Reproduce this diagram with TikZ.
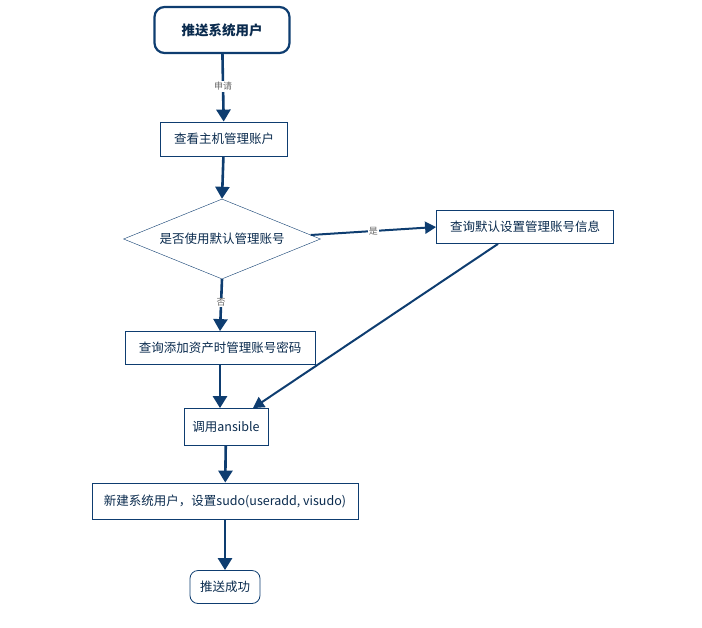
\documentclass[tikz,border=0pt]{standalone}
\usepackage{fontspec}
\setmainfont{Noto Sans CJK SC}
\usetikzlibrary{arrows.meta,shapes.geometric}
\definecolor{flowblue}{HTML}{0E3D70}

\begin{document}
\begin{tikzpicture}[x=1pt,y=-1pt,
        box/.style={draw=flowblue,thick,fill=white,inner sep=2pt,font=\fontsize{12.5}{14}\selectfont,text=flowblue!70!black},
        endbox/.style={box,rounded corners=8pt},
        startbox/.style={box,rounded corners=10pt,line width=2.2pt,font=\fontsize{13.5}{16}\selectfont\bfseries},
        decision/.style={box,diamond,aspect=2.45,inner sep=0pt,thin},
        flow/.style={draw=flowblue,line width=2.6pt,-{Triangle[length=12pt,width=14pt]}},
        thinflow/.style={draw=flowblue,line width=2pt,-{Triangle[length=11pt,width=12pt]}},
        answer/.style={fill=white,text=gray!80!black,inner sep=1pt,font=\fontsize{9}{10}\selectfont}]
        \useasboundingbox (0,0) rectangle (702,627);
        \node[startbox,minimum width=135pt,minimum height=46pt] (push) at (222,30) {推送系统用户};
        \node[box,minimum width=127pt,minimum height=34pt] (view) at (224,139) {查看主机管理账户};
        \node[decision,minimum width=197pt,minimum height=80pt] (usedefault) at (222,239) {是否使用默认管理账号};
        \node[box,minimum width=177pt,minimum height=33pt] (defaultinfo) at (525,227) {查询默认设置管理账号信息};
        \node[box,minimum width=190pt,minimum height=33pt] (assetpw) at (220,348) {查询添加资产时管理账号密码};
        \node[box,minimum width=84pt,minimum height=37pt] (ansible) at (226,427) {调用ansible};
        \node[box,minimum width=266pt,minimum height=36pt] (newuser) at (225,501) {新建系统用户，设置sudo(useradd, visudo)};
        \node[endbox,minimum width=70pt,minimum height=33pt] (done) at (225,587) {推送成功};
        \draw[flow] (push) -- node[answer,pos=0.48]{申请} (view);
        \draw[flow] (view) -- (usedefault.north);
        \draw[thinflow] (usedefault.east) ++(-10,-4) coordinate (yesstart) -- node[answer]{是} (defaultinfo.west);
        \draw[flow] (usedefault.south) -- node[answer,pos=0.45]{否} (assetpw.north);
        \draw[flow] (assetpw) -- (ansible.north -| assetpw);
        \draw[thinflow] (defaultinfo.south) ++(-27,0) coordinate (diagstart) -- ([xshift=27pt]ansible.north);
        \draw[flow] (ansible) -- (newuser);
        \draw[flow] (newuser) -- (done);
      \end{tikzpicture}
\end{document}
